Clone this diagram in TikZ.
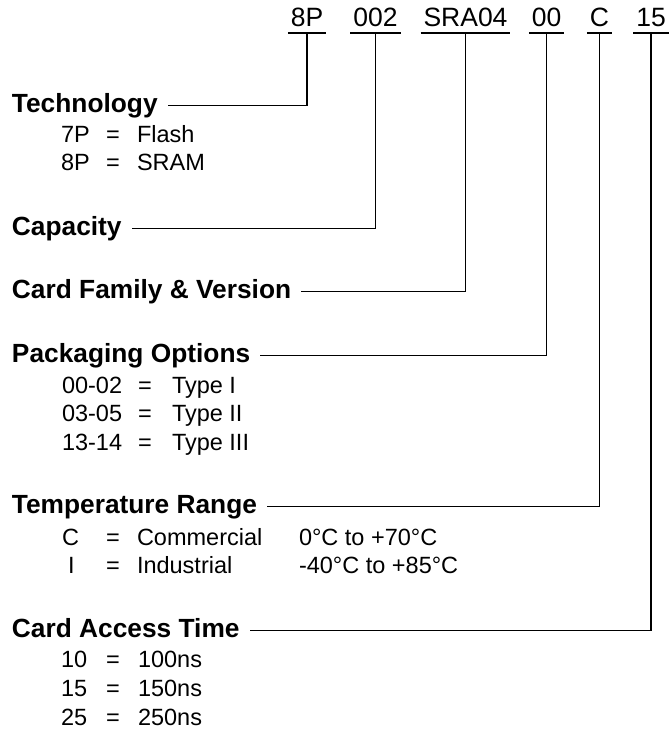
\documentclass[tikz,border=0pt]{standalone}
\usepackage{fontspec}
\setmainfont{Liberation Sans}
\usetikzlibrary{positioning}

\tikzset{
  field/.style={inner xsep=3pt, inner ysep=7pt, outer sep=0pt, anchor=base,
    text depth=0pt, font=\fontsize{26.5pt}{30pt}\selectfont},
  heading/.style={inner sep=0pt, outer xsep=10pt, outer ysep=0pt, anchor=base west,
    text height=18pt, text depth=5pt, font=\bfseries\fontsize{26.3pt}{30pt}\selectfont},
  entry/.style={inner sep=0pt, outer sep=0pt, anchor=base west,
    font=\fontsize{23.5pt}{28pt}\selectfont},
  link/.style={line width=1.2pt}
}

\begin{document}
\begin{tikzpicture}[x=1pt, y=-1pt]
        \useasboundingbox (0,0) rectangle (670,731);

        % Draw the part number fields
        \node[field] (ftech) at (307,26) {8P};
        \node[field] (fcap) at (375.5,26) {002};
        \node[field] (ffam) at (465.5,26) {SRA04};
        \node[field] (fpack) at (546.5,26) {00};
        \node[field] (ftemp) at (599.5,26) {C};
        \node[field] (ftime) at (651,26) {15};
        \draw[link] (ftech.south west) -- (ftech.south east);
        \draw[link] (fcap.south west) -- (fcap.south east);
        \draw[link] (ffam.south west) -- (ffam.south east);
        \draw[link] (fpack.south west) -- (fpack.south east);
        \draw[link] (ftemp.south west) -- (ftemp.south east);
        \draw[link] (ftime.south west) -- (ftime.south east);

        % Draw the technology block
        \node[heading] (technology) at (2,112.3) {Technology};
        \node[entry] (flashcode) at (61,142) {7P};
        \node[entry] (flasheq) at (106,142) {=};
        \node[entry] (flash) at (137,142) {Flash};
        \node[entry] (sramcode) at (61,170) {8P};
        \node[entry] (srameq) at (106,170) {=};
        \node[entry] (sram) at (137,170) {SRAM};
        \draw[link] (ftech.south) |- (technology.east);

        % Draw the capacity and family lines
        \node[heading] (capacity) at (2,235) {Capacity};
        \draw[link] (fcap.south) |- (capacity.east);
        \node[heading] (family) at (2,298) {Card Family \& Version};
        \draw[link] (ffam.south) |- (family.east);

        % Draw the packaging block
        \node[heading] (packaging) at (2,362) {Packaging Options};
        \node[entry] (typeacode) at (62,393) {00-02};
        \node[entry] (typeaeq) at (138,393) {=};
        \node[entry] (typea) at (172,393) {Type I};
        \node[entry] (typebcode) at (62,421.5) {03-05};
        \node[entry] (typebeq) at (138,421.5) {=};
        \node[entry] (typeb) at (172,421.5) {Type II};
        \node[entry] (typeccode) at (62,450) {13-14};
        \node[entry] (typeceq) at (138,450) {=};
        \node[entry] (typec) at (172,450) {Type III};
        \draw[link] (fpack.south) |- (packaging.east);

        % Draw the temperature block
        \node[heading] (temperature) at (2,513) {Temperature Range};
        \node[entry] (comcode) at (62,545) {C};
        \node[entry] (comeq) at (106,545) {=};
        \node[entry] (com) at (137,545) {Commercial};
        \node[entry] (comrange) at (299,545) {0°C to +70°C};
        \node[entry] (indcode) at (68,573) {I};
        \node[entry] (indeq) at (106,573) {=};
        \node[entry] (ind) at (137,573) {Industrial};
        \node[entry] (indrange) at (299,573) {-40°C to +85°C};
        \draw[link] (ftemp.south) |- (temperature.east);

        % Draw the access time block
        \node[heading] (access) at (2,637) {Card Access Time};
        \node[entry] (tacode) at (61,667) {10};
        \node[entry] (taeq) at (106,667) {=};
        \node[entry] (ta) at (138,667) {100ns};
        \node[entry] (tbcode) at (61,696) {15};
        \node[entry] (tbeq) at (106,696) {=};
        \node[entry] (tb) at (138,696) {150ns};
        \node[entry] (tccode) at (61,725) {25};
        \node[entry] (tceq) at (106,725) {=};
        \node[entry] (tc) at (138,725) {250ns};
        \draw[link] (ftime.south) |- (access.east);

        \end{tikzpicture}
\end{document}
